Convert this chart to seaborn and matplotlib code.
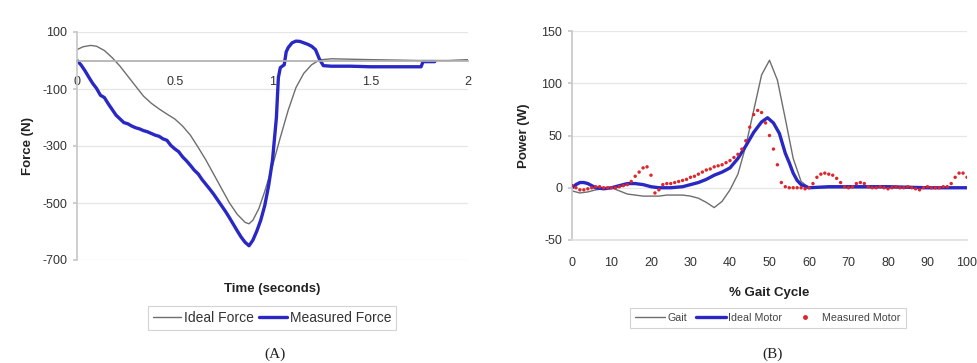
import numpy as np
import pandas as pd
import matplotlib
matplotlib.use("Agg")
import matplotlib.pyplot as plt
import seaborn as sns
from matplotlib.lines import Line2D

# ---------------- data: panel A ----------------
ideal_t = [0.00, 0.03, 0.07, 0.10, 0.14, 0.18, 0.22, 0.26, 0.30, 0.34, 0.38, 0.42,
           0.46, 0.50, 0.54, 0.58, 0.62, 0.66, 0.70, 0.74, 0.78, 0.82, 0.86, 0.88,
           0.90, 0.93, 0.96, 1.00, 1.04, 1.08, 1.12, 1.16, 1.20, 1.24, 1.30, 1.50,
           1.75, 1.90, 2.00]
ideal_force = [38, 48, 53, 50, 35, 10, -20, -55, -90, -125, -150, -170,
               -188, -205, -230, -262, -305, -350, -400, -450, -500, -540, -568, -573,
               -560, -520, -460, -370, -270, -175, -95, -45, -15, 2, 6, 3,
               0, 0, 3]

meas_t = [0.00, 0.02, 0.04, 0.06, 0.08, 0.10, 0.12, 0.14, 0.16, 0.18, 0.20, 0.22,
          0.24, 0.26, 0.28, 0.30, 0.32, 0.34, 0.36, 0.38, 0.40, 0.42, 0.44, 0.46,
          0.48, 0.50, 0.52, 0.54, 0.56, 0.58, 0.60, 0.62, 0.64, 0.66, 0.68, 0.70,
          0.72, 0.74, 0.76, 0.78, 0.80, 0.82, 0.84, 0.86, 0.88, 0.90, 0.92, 0.94,
          0.96, 0.98, 1.00, 1.02, 1.03, 1.04, 1.06, 1.07, 1.08, 1.10, 1.12, 1.14,
          1.16, 1.18, 1.20, 1.22, 1.24, 1.26, 1.30, 1.40, 1.50, 1.60, 1.70, 1.76,
          1.77, 1.83]
meas_force = [0, -15, -35, -58, -80, -98, -122, -130, -152, -172, -192, -205,
              -218, -222, -230, -236, -240, -246, -250, -256, -262, -266, -275, -280,
              -298, -310, -320, -338, -352, -368, -385, -398, -418, -435, -452, -470,
              -490, -510, -530, -552, -575, -598, -620, -638, -650, -630, -598, -560,
              -510, -440, -350, -200, -60, -25, -15, 30, 45, 62, 68, 67,
              62, 57, 50, 38, 5, -18, -20, -20, -22, -22, -22, -22,
              -4, -4]

# ---------------- data: panel B ----------------
gait_x = [0, 2, 4, 6, 8, 10, 12, 14, 16, 18, 20, 22, 24, 26, 28, 30, 32, 34, 36,
          38, 40, 42, 44, 46, 48, 50, 52, 54, 56, 58, 60, 70, 80, 90, 100]
gait_y = [-3, -5, -4, -2, -1, 0, -3, -6, -7, -8, -8, -8, -7, -7, -7, -8, -10, -14, -19,
          -13, -2, 13, 40, 74, 108, 122, 103, 66, 28, 6, 0, 0, 0, 0, 0]

motor_x = [0, 1, 2, 3, 4, 5, 6, 8, 10, 12, 14, 16, 18, 20, 22, 25, 28, 30, 32, 34,
           36, 38, 40, 42, 44, 46, 48, 49.5, 51, 52.5, 54, 55, 56, 57, 58, 60, 65,
           70, 80, 90, 100]
motor_y = [0, 3, 5, 5, 4, 2, 0, -1, 0, 2, 4, 4, 3, 1, 0, 0, 1, 3, 5, 8,
           12, 15, 19, 28, 40, 53, 63, 67, 62, 52, 33, 24, 14, 7, 3, 0, 1,
           1, 1, 0, 0]

measured_motor_x = list(range(0, 101))
measured_motor_y = [2, 0, -2, -2, -1, 0, 1, 1, 0, 0,
                    0, 0, 1, 2, 3, 6, 11, 15, 19, 20,
                    12, -5, -2, 3, 4, 4, 5, 6, 7, 8,
                    10, 11, 13, 15, 17, 18, 20, 21, 22, 24,
                    26, 29, 32, 37, 45, 58, 70, 74, 72, 62,
                    50, 37, 22, 5, 1, 0, 0, 0, 0, -1,
                    0, 4, 10, 13, 14, 13, 12, 9, 5, 1,
                    0, 1, 4, 5, 4, 1, 0, 0, 1, 0,
                    -1, 0, 1, 0, 0, 1, 0, -1, -2, 0,
                    1, 0, 0, 0, 1, 1, 4, 10, 14, 14,
                    10]

a_yticks = [100, -100, -300, -500, -700]
a_xticks = [0, 0.5, 1, 1.5, 2]
a_xticklabels = ["0", "0.5", "1", "1.5", "2"]
b_yticks = [150, 100, 50, 0, -50]
b_xticks = list(range(0, 101, 10))

# ---------------- style ----------------
sns.set_theme(style="white")
plt.rcParams["font.family"] = ["Liberation Sans", "DejaVu Sans"]
plt.rcParams["axes.unicode_minus"] = False

BLUE = "#2a28c4"
GRAY = "#6e6e6e"
RED = "#e0242c"
TICKC = "#333333"
GRIDC = "#e6e6e6"

fig = plt.figure(figsize=(9.77, 3.63), dpi=100)
W, H = 977, 363
axA = fig.add_axes([77 / W, 1 - 260 / H, (468 - 77) / W, (260 - 32) / H])
axB = fig.add_axes([572 / W, 1 - 240 / H, (967 - 572) / W, (240 - 31) / H])

# ---- panel A ----
dfA1 = pd.DataFrame({"t": ideal_t, "f": ideal_force})
dfA2 = pd.DataFrame({"t": meas_t, "f": meas_force})
sns.lineplot(data=dfA1, x="t", y="f", ax=axA, color=GRAY, lw=1.0, sort=False)
sns.lineplot(data=dfA2, x="t", y="f", ax=axA, color=BLUE, lw=2.4, sort=False)
axA.set_xlim(0, 2)
axA.set_ylim(-700, 100)
axA.set_yticks(a_yticks)
axA.set_xticks(a_xticks)
axA.set_xticklabels(a_xticklabels)
for yv in a_yticks:
    axA.axhline(yv, color=GRIDC, lw=0.9, zorder=0)
for s in ["top", "right"]:
    axA.spines[s].set_visible(False)
axA.spines["bottom"].set_position(("data", 0))
axA.spines["bottom"].set_color("#b0b0b0")
axA.spines["left"].set_color("#c8c8c8")
axA.tick_params(axis="x", length=0, pad=11, labelsize=9, colors=TICKC)
axA.tick_params(axis="y", length=3, pad=4, labelsize=9, colors=TICKC, left=True, color="#c8c8c8")
axA.set_xlabel("Time (seconds)", fontsize=9.5, fontweight="bold", color="#222222")
axA.xaxis.set_label_coords(0.5, -0.10)
axA.set_ylabel("Force (N)", fontsize=9.5, fontweight="bold", color="#222222", labelpad=6)

# ---- panel B ----
dfB1 = pd.DataFrame({"x": gait_x, "y": gait_y})
dfB2 = pd.DataFrame({"x": motor_x, "y": motor_y})
dfB3 = pd.DataFrame({"x": measured_motor_x, "y": measured_motor_y})
for yv in b_yticks:
    axB.axhline(yv, color=GRIDC, lw=0.9, zorder=0)
sns.lineplot(data=dfB1, x="x", y="y", ax=axB, color=GRAY, lw=1.0, sort=False)
sns.lineplot(data=dfB2, x="x", y="y", ax=axB, color=BLUE, lw=2.4, sort=False)
sns.scatterplot(data=dfB3, x="x", y="y", ax=axB, color=RED, s=6, marker="o",
                edgecolor="none", zorder=3)
axB.set_xlim(0, 100)
axB.set_ylim(-50, 150)
axB.set_yticks(b_yticks)
axB.set_xticks(b_xticks)
for s in ["top", "right"]:
    axB.spines[s].set_visible(False)
axB.spines["bottom"].set_color("#e0e0e0")
axB.spines["left"].set_color("#c8c8c8")
axB.tick_params(axis="x", length=0, pad=12, labelsize=9, colors=TICKC)
axB.tick_params(axis="y", length=3, pad=4, labelsize=9, colors=TICKC, left=True, color="#c8c8c8")
axB.set_xlabel("% Gait Cycle", fontsize=9.5, fontweight="bold", color="#222222")
axB.xaxis.set_label_coords(0.5, -0.225)
axB.set_ylabel("Power (W)", fontsize=9.5, fontweight="bold", color="#222222", labelpad=8)

# ---- legends ----
hA = [Line2D([], [], color=GRAY, lw=1.0), Line2D([], [], color=BLUE, lw=2.4)]
legA = fig.legend(hA, ["Ideal Force", "Measured Force"], loc="center",
                  bbox_to_anchor=(272 / W, 1 - 318 / H), ncol=2, frameon=True,
                  fontsize=10, handlelength=2.0, handletextpad=0.2, columnspacing=0.4,
                  borderpad=0.35, fancybox=False)
legA.get_frame().set_edgecolor("#c8c8c8")
legA.get_frame().set_linewidth(0.8)
for t in legA.get_texts():
    t.set_color("#333333")

hB = [Line2D([], [], color=GRAY, lw=1.0), Line2D([], [], color=BLUE, lw=2.4),
      Line2D([], [], color=RED, lw=0, marker="o", markersize=2.5)]
legB = fig.legend(hB, ["Gait", "Ideal Motor", "Measured Motor"], loc="center",
                  bbox_to_anchor=(768 / W, 1 - 318 / H), ncol=3, frameon=True,
                  fontsize=7.7, handlelength=2.8, handletextpad=0.2, columnspacing=0.8,
                  borderpad=0.45, fancybox=False)
legB.get_frame().set_edgecolor("#c8c8c8")
legB.get_frame().set_linewidth(0.8)
for t in legB.get_texts():
    t.set_color("#444444")

fig.text(275 / W, 1 - 354 / H, "(A)", ha="center", va="center",
         family=["Liberation Serif", "DejaVu Serif"], fontsize=11, color="#222222")
fig.text(773 / W, 1 - 354 / H, "(B)", ha="center", va="center",
         family=["Liberation Serif", "DejaVu Serif"], fontsize=11, color="#222222")

fig.savefig("out.png", dpi=100, facecolor="white")
